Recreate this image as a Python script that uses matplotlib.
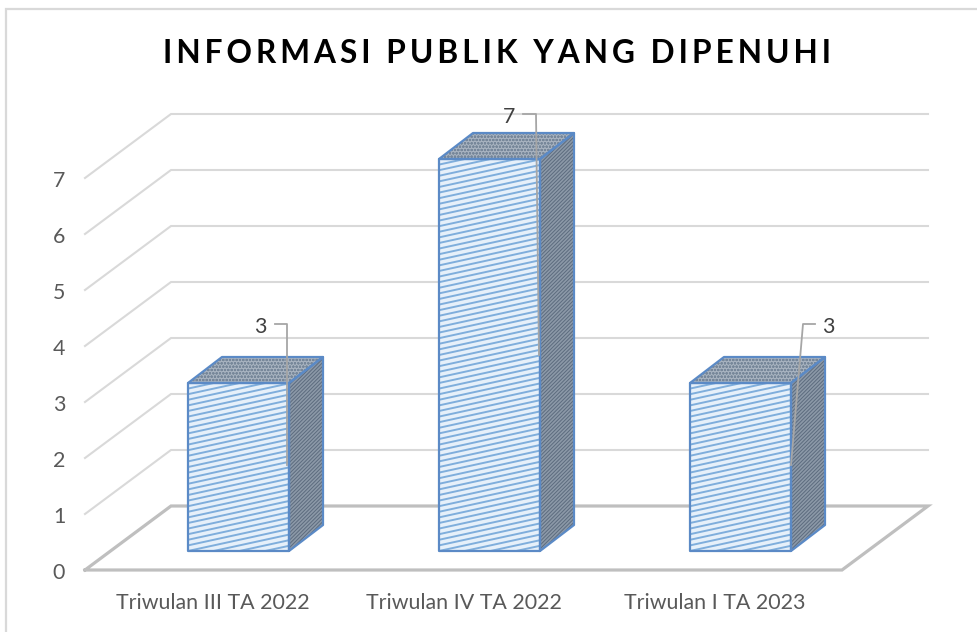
import numpy as np
import matplotlib
matplotlib.use('Agg')
import matplotlib.pyplot as plt
from matplotlib.patches import Polygon

plt.rcParams['font.family'] = ['Lato', 'DejaVu Sans']
plt.rcParams['hatch.linewidth'] = 0.7

categories = ['Triwulan III TA 2022', 'Triwulan IV TA 2022', 'Triwulan I TA 2023']
values = [3, 7, 3]
y_ticks = [0, 1, 2, 3, 4, 5, 6, 7]
title = '\u2009'.join('INFORMASI PUBLIK YANG DIPENUHI')

W, H = 977, 632
PX_X = 251.0   # pixels per category
PX_Y = 56.0    # pixels per value unit

fig = plt.figure(figsize=(W / 100, H / 100), dpi=100)
ax = fig.add_axes([0, 0, 1, 1])
ax.set_xlim(-238.5 / PX_X, (W - 238.5) / PX_X)
ax.set_ylim((551 - H) / PX_Y, 551 / PX_Y)
ax.axis('off')

# helpers for going from pixel offsets to data units
def px_x(p):
    return (p - 238.5) / PX_X

def px_y(p):
    return (551 - p) / PX_Y

# oblique projection offsets, in data units
floor_y = px_y(570)
floor_left = px_x(85)
floor_right = px_x(842)
back_dx = 86 / PX_X
back_dy = 64 / PX_Y
grid_right = px_x(928)
bar_w = 101 / PX_X
side_dx = 34 / PX_X
side_dy = 26 / PX_Y

# chart frame, only top and left show
ax.plot([px_x(977), px_x(6), px_x(6)], [px_y(9), px_y(9), px_y(632)], color='#D9D9D9', lw=1.6,
        solid_joinstyle='miter', zorder=1)

# walls and gridlines
for v in y_ticks[1:]:
    y = floor_y + v
    ax.plot([floor_left, floor_left + back_dx, grid_right], [y, y + back_dy, y + back_dy],
            color='#D9D9D9', lw=1.5, zorder=1)

# floor
ax.plot([floor_left, floor_right, floor_right + back_dx, floor_left + back_dx, floor_left],
        [floor_y, floor_y, floor_y + back_dy, floor_y + back_dy, floor_y],
        color='#BFBFBF', lw=2.3, solid_joinstyle='miter', zorder=2)

# bars
for i, v in enumerate(values):
    x0 = i - bar_w / 2
    x1 = i + bar_w / 2
    top = Polygon([(x0, v), (x1, v), (x1 + side_dx, v + side_dy), (x0 + side_dx, v + side_dy)],
                  fc='#A8B3C0', ec='#77879A', hatch='ooooo', lw=0, zorder=3)
    side = Polygon([(x1, 0), (x1 + side_dx, side_dy), (x1 + side_dx, v + side_dy), (x1, v)],
                   fc='#8C99A8', ec='#5C6B7E', hatch='/////////', lw=0, zorder=3)
    front = Polygon([(x0, 0), (x1, 0), (x1, v), (x0, v)], fc='#E6F0FA', ec='none', zorder=3)
    ax.add_patch(top)
    ax.add_patch(side)
    ax.add_patch(front)
    # shallow diagonal hatch on the front face
    for y0 in np.arange(-1.5, v + 0.5, 5.6 / PX_Y):
        ln, = ax.plot([x0, x1], [y0, y0 + 22 / PX_Y], color='#7FAEDC', lw=1.4, zorder=4)
        ln.set_clip_path(front)
    # bar outlines
    for pts in (front, side, top):
        ax.add_patch(Polygon(pts.get_xy(), fill=False, ec='#5B8AC6', lw=1.6, zorder=5,
                             joinstyle='round'))

# leader lines and value labels
label_x = [px_x(260), px_x(509), px_x(828)]
stub_x = [px_x(275), px_x(523), px_x(815)]
elbow_x = [px_x(287), px_x(536), px_x(803)]
end_x = [px_x(287), px_x(539), px_x(791)]
label_y = [px_y(324), px_y(114), px_y(324)]
end_y = [px_y(465), px_y(355), px_y(465)]
for i, v in enumerate(values):
    ax.plot([stub_x[i], elbow_x[i], end_x[i]], [label_y[i], label_y[i], end_y[i]],
            color='#A6A6A6', lw=1.3, zorder=6)
    ax.text(label_x[i], label_y[i] - 3 / PX_Y, str(v), ha='center', va='center', fontsize=15.4,
            color='#404040', zorder=7)

# axis labels
for v in y_ticks:
    ax.text(px_x(59), floor_y + v - 3 / PX_Y, str(v), ha='center', va='center', fontsize=15.4, color='#595959')
for i, c in enumerate(categories):
    ax.text(i - 25.5 / PX_X, px_y(603), c, ha='center', va='center', fontsize=15.4, color='#595959')

ax.text(px_x(497), px_y(53.5), title, ha='center', va='center', fontsize=22.8,
        fontweight='bold', color='#000000')

fig.savefig('out.png', dpi=100)
